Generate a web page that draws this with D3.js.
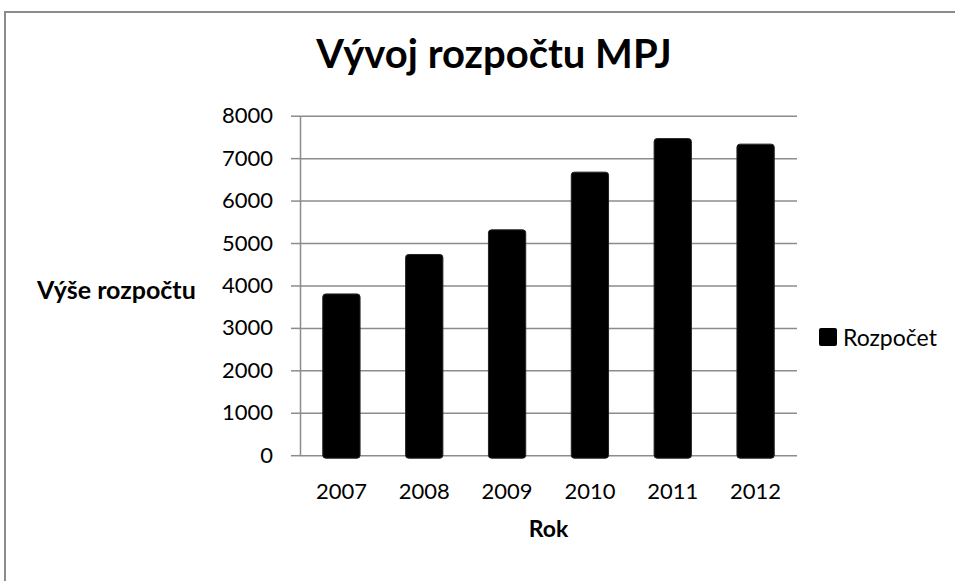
<!DOCTYPE html>
<html>
<head>
<meta charset="utf-8">
<script src="https://cdn.jsdelivr.net/npm/d3@7"></script>
<style>
    body { margin: 0; background: #fff; }
    svg { display: block; font-family: Lato, "Open Sans", sans-serif; }
</style>
</head>
<body>
<svg id="drawing_region"></svg>
<script>
const years = ['2007', '2008', '2009', '2010', '2011', '2012'];
const budget = [3800, 4730, 5310, 6670, 7460, 7330];
const yTicks = [0, 1000, 2000, 3000, 4000, 5000, 6000, 7000, 8000];
const seriesName = 'Rozpočet';

const data = years.map( (y, i) => ({ year: y, value: budget[i] }) );

class BarChart {

    constructor( config, data ) {
        this.config = {
            parent: config.parent,
            width: config.width || 256,
            height: config.height || 256,
            margin: config.margin || {top:10, right:10, bottom:10, left:10}
        }
        this.data = data;
        this.init();
    }

    init() {
        let self = this;

        self.svg = d3.select( self.config.parent )
            .attr('width', self.config.width)
            .attr('height', self.config.height);

        // chart area frame (cut off on the right / bottom)
        self.svg.append('rect')
            .attr('x', 5).attr('y', 12)
            .attr('width', 970).attr('height', 600)
            .attr('fill', 'white')
            .attr('stroke', '#8c8c8c')
            .attr('stroke-width', 2);

        self.chart = self.svg.append('g')
            .attr('transform', `translate(${self.config.margin.left}, ${self.config.margin.top})`);

        self.inner_width = self.config.width - self.config.margin.left - self.config.margin.right;
        self.inner_height = self.config.height - self.config.margin.top - self.config.margin.bottom;

        self.xscale = d3.scaleBand()
            .domain( years )
            .range( [0, self.inner_width] )
            .padding( 0 );

        self.yscale = d3.scaleLinear()
            .domain( [0, 8000] )
            .range( [self.inner_height, 0] );

        self.grid_group = self.chart.append('g');
        self.yaxis_group = self.chart.append('g');
        self.xaxis_group = self.chart.append('g')
            .attr('transform', `translate(0, ${self.inner_height})`);
    }

    render() {
        let self = this;
        const grey = '#8c8c8c';

        // horizontal gridlines
        self.grid_group
            .call( d3.axisLeft( self.yscale ).tickValues( yTicks ).tickSize( -self.inner_width ).tickFormat('') )
            .call( g => g.select('.domain').remove() )
            .selectAll('line')
            .attr('stroke', grey)
            .attr('stroke-width', 1.5);

        // y axis with outer ticks
        self.yaxis_group
            .call( d3.axisLeft( self.yscale ).tickValues( yTicks ).tickFormat( d3.format('d') )
                .tickSize( 9 ).tickSizeOuter( 0 ).tickPadding( 18 ) )
            .call( g => g.select('.domain').attr('stroke', grey).attr('stroke-width', 1.5) )
            .call( g => g.selectAll('line').attr('stroke', grey).attr('stroke-width', 1.5) )
            .selectAll('text')
            .attr('font-family', 'Lato')
            .attr('font-size', '22px')
            .attr('fill', '#000');

        self.xaxis_group
            .call( d3.axisBottom( self.xscale ).tickSize( 0 ).tickPadding( 28.5 ) )
            .call( g => g.select('.domain').remove() )
            .selectAll('text')
            .attr('font-family', 'Lato')
            .attr('font-size', '22px')
            .attr('fill', '#000');

        // bars
        const bw = self.xscale.bandwidth() * 0.45;
        self.chart.selectAll('.bar')
            .data( self.data )
            .enter()
            .append('rect')
            .attr('class', 'bar')
            .attr('x', d => self.xscale( d.year ) + (self.xscale.bandwidth() - bw) / 2 )
            .attr('y', d => self.yscale( d.value ) )
            .attr('width', bw)
            .attr('height', d => self.yscale( 0 ) - self.yscale( d.value ) + 3 )
            .attr('rx', 3)
            .attr('fill', '#000')
            .attr('stroke', '#222')
            .attr('stroke-width', 1);

        // title
        self.svg.append('text')
            .attr('x', 494)
            .attr('y', 68)
            .attr('text-anchor', 'middle')
            .attr('font-size', '40px')
            .attr('font-weight', 'bold')
            .text('Vývoj rozpočtu MPJ');

        // axis titles
        self.chart.append('text')
            .attr('x', self.inner_width / 2)
            .attr('y', self.inner_height + 82)
            .attr('text-anchor', 'middle')
            .attr('font-size', '23px')
            .attr('font-weight', 'bold')
            .text('Rok');

        self.svg.append('text')
            .attr('x', 37)
            .attr('y', 299)
            .attr('font-size', '25px')
            .attr('font-weight', 'bold')
            .text('Výše rozpočtu');

        // legend
        const legend = self.svg.append('g')
            .attr('transform', 'translate(819, 328)');
        legend.append('rect')
            .attr('width', 18).attr('height', 18)
            .attr('rx', 2)
            .attr('fill', '#000');
        legend.append('text')
            .attr('x', 24)
            .attr('y', 18)
            .attr('font-size', '23px')
            .text( seriesName );
    }
}

const config = {
    parent: '#drawing_region',
    width: 955,
    height: 581,
    margin: {top:115.7, right:158, bottom:125.8, left:300}
};

const bar_chart = new BarChart( config, data );
bar_chart.render();
</script>
</body>
</html>
